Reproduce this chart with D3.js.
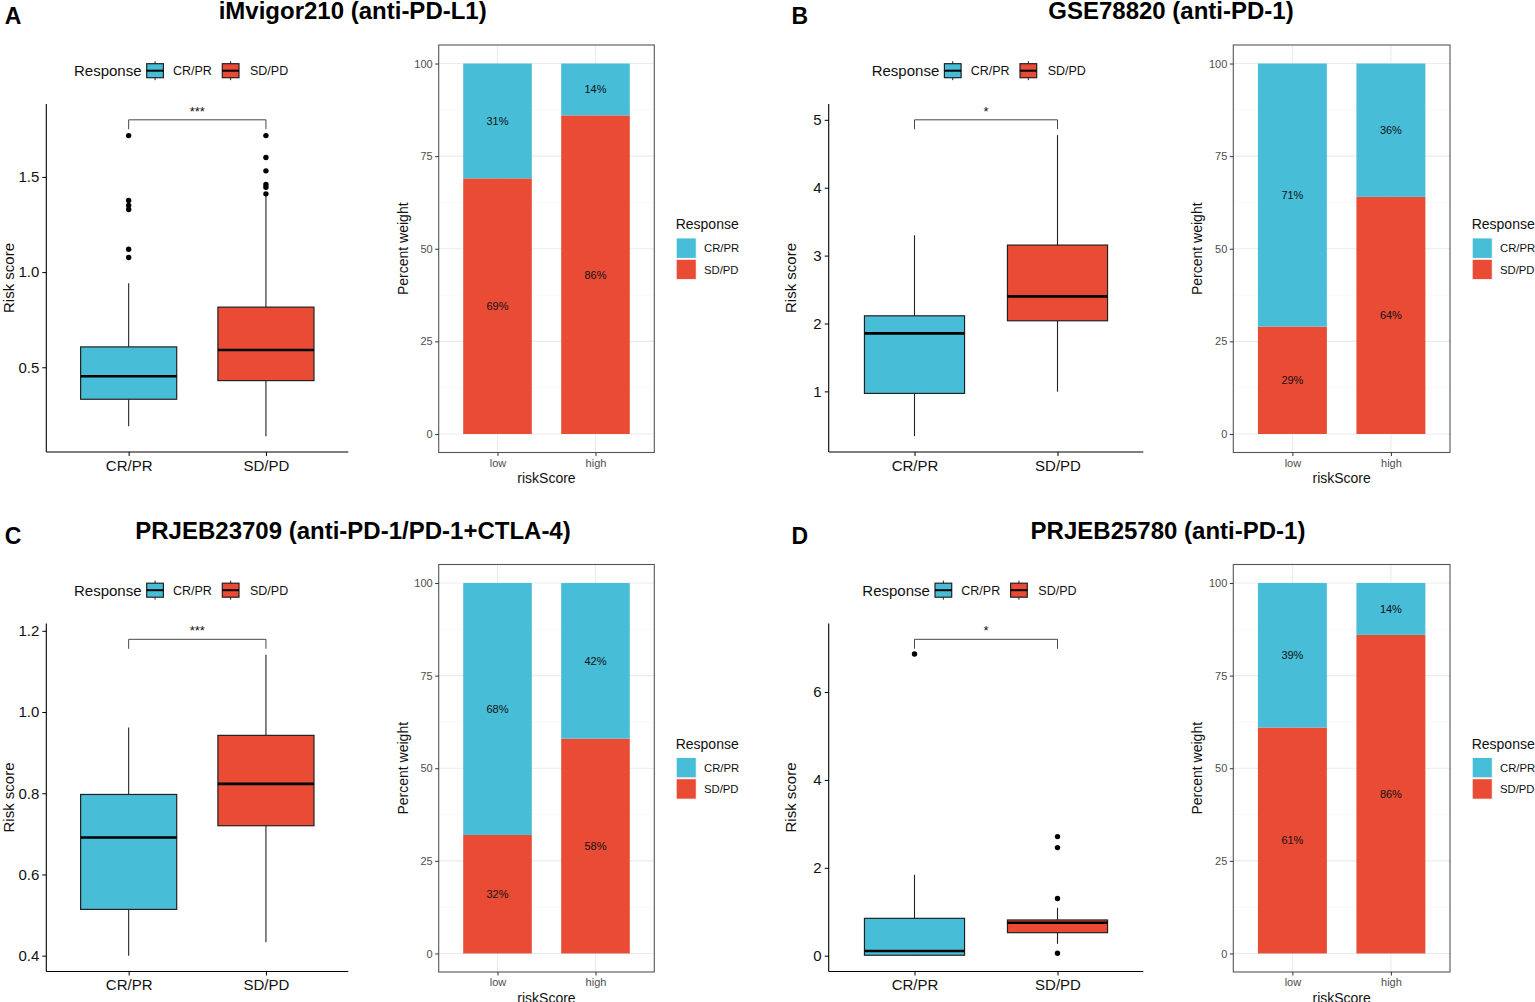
<!DOCTYPE html>
<html>
<head>
<meta charset="utf-8">
<script src="https://cdn.jsdelivr.net/npm/d3@7"></script>
<style>
  html, body { margin: 0; padding: 0; background: #fff; }
  svg { display: block; }
  text { font-family: "Liberation Sans", Arial, Helvetica, sans-serif; }
</style>
</head>
<body>
<script>
// ---------------- DATA ----------------
const groups = ["CR/PR", "SD/PD"];
const riskLevels = ["low", "high"];
const panelLetters = ["A", "B", "C", "D"];
const titles = [
  "iMvigor210 (anti-PD-L1)",
  "GSE78820 (anti-PD-1)",
  "PRJEB23709 (anti-PD-1/PD-1+CTLA-4)",
  "PRJEB25780 (anti-PD-1)"
];
// box statistics per group: [lower whisker, Q1, median, Q3, upper whisker]
const boxA = [[0.19, 0.332, 0.453, 0.607, 0.942], [0.138, 0.43, 0.591, 0.816, 1.40]];
const boxB = [[0.34, 0.97, 1.854, 2.113, 3.30], [0.995, 2.04, 2.40, 3.155, 4.775]];
const boxC = [[0.40, 0.514, 0.691, 0.797, 0.962], [0.433, 0.72, 0.823, 0.9425, 1.141]];
const boxD = [[0.0, 0.01, 0.107, 0.85, 1.84], [0.27, 0.524, 0.75, 0.813, 1.09]];
// outliers per group
const outA = [[1.077, 1.12, 1.329, 1.35, 1.376, 1.717], [1.411, 1.446, 1.46, 1.532, 1.602, 1.717]];
const outB = [[], []];
const outC = [[], []];
const outD = [[6.866], [0.055, 1.30, 2.46, 2.71]];
// significance brackets
const sigLabels = ["***", "*", "***", "*"];
const bracketY = [1.80, 5.0, 1.179, 7.2];
// y tick values of the box plots
const ticksA = [0.5, 1.0, 1.5];
const ticksB = [1, 2, 3, 4, 5];
const ticksC = [0.4, 0.6, 0.8, 1.0, 1.2];
const ticksD = [0, 2, 4, 6];
const tickFormats = [".1f", "d", ".1f", "d"];
// stacked bar percentages (panels A-D)
const crprLow  = [31, 71, 68, 39];
const sdpdLow  = [69, 29, 32, 61];
const crprHigh = [14, 36, 42, 14];
const sdpdHigh = [86, 64, 58, 86];
const pctTicks = [0, 25, 50, 75, 100];
const pctMinor = [12.5, 37.5, 62.5, 87.5];

// ---------------- STYLE / LAYOUT ----------------
const COL = { "CR/PR": "#47BDD8", "SD/PD": "#E94B35" };
const W = 1535, H = 1002;
const svg = d3.select("body").append("svg").attr("width", W).attr("height", H);

const boxData = [boxA, boxB, boxC, boxD];
const outData = [outA, outB, outC, outD];
const tickData = [ticksA, ticksB, ticksC, ticksD];

const rowDY = [0, 519.5];
const boxLayout = [
  { x0: 46.3, x1: 348.3 }, { x0: 828.7, x1: 1143.3 },
  { x0: 46.3, x1: 348.3 }, { x0: 828.7, x1: 1143.3 }
];
const boxLegendX = [74, 871.7, 74, 862.3];
const barLayout = [
  { x0: 438.7, x1: 654.3, leg: 675.7 }, { x0: 1233.3, x1: 1450, leg: 1471.7 },
  { x0: 438.7, x1: 654.3, leg: 675.7 }, { x0: 1233.3, x1: 1450, leg: 1471.7 }
];
const titleX = [352.7, 1171, 353, 1168];
const letterX = [4.7, 791.5, 4.7, 791.5];

for (let p = 0; p < 4; p++) {
  const dy = rowDY[Math.floor(p / 2)];
  // panel letter and title
  svg.append("text").attr("x", letterX[p]).attr("y", 24 + dy)
    .attr("font-size", 23).attr("font-weight", "bold").text(panelLetters[p]);
  svg.append("text").attr("x", titleX[p]).attr("y", 19 + dy)
    .attr("text-anchor", "middle").attr("font-size", 24).attr("font-weight", "bold")
    .text(titles[p]);
  drawBox(p, dy);
  drawBar(p, dy);
}

function drawBox(p, dy) {
  const L = boxLayout[p];
  const y0 = 104 + dy, y1 = 452 + dy;
  const stats = boxData[p], outs = outData[p];
  const dataMin = d3.min([...stats.map(s => s[0]), ...outs.flat()]);
  const top = bracketY[p];
  const r = top - dataMin;
  const y = d3.scaleLinear().domain([dataMin - 0.05 * r, top + 0.05 * r]).range([y1, y0]);
  const x = d3.scalePoint().domain(groups).range([L.x0, L.x1]).padding(0.6);
  const bw = x.step() * 0.7;
  const g = svg.append("g");

  // axes
  const ya = g.append("g").attr("transform", `translate(${L.x0},0)`)
    .call(d3.axisLeft(y).tickValues(tickData[p]).tickSize(4).tickPadding(3)
      .tickFormat(d3.format(tickFormats[p])));
  const xa = g.append("g").attr("transform", `translate(0,${y1})`)
    .call(d3.axisBottom(x).tickSize(4).tickPadding(4));
  [ya, xa].forEach(a => {
    a.select(".domain").attr("stroke", "#000").attr("stroke-width", 1.1);
    a.selectAll(".tick line").attr("stroke", "#000").attr("stroke-width", 1);
    a.selectAll(".tick text").attr("fill", "#111").attr("font-size", 15)
      .attr("font-family", '"Liberation Sans", Arial, sans-serif');
  });
  // extend axis lines to the corner
  ya.select(".domain").attr("d", `M0,${y0}V${y1}`);
  xa.select(".domain").attr("d", `M${L.x0},0H${L.x1}`);

  g.append("text").attr("transform", `translate(${L.x0 - 32.5},${(y0 + y1) / 2}) rotate(-90)`)
    .attr("text-anchor", "middle").attr("font-size", 15).attr("fill", "#111").text("Risk score");

  // boxes
  groups.forEach((grp, i) => {
    const s = stats[i], cx = x(grp);
    g.append("line").attr("x1", cx).attr("x2", cx).attr("y1", y(s[0])).attr("y2", y(s[1]))
      .attr("stroke", "#222").attr("stroke-width", 1.1);
    g.append("line").attr("x1", cx).attr("x2", cx).attr("y1", y(s[3])).attr("y2", y(s[4]))
      .attr("stroke", "#222").attr("stroke-width", 1.1);
    g.append("rect").attr("x", cx - bw / 2).attr("width", bw)
      .attr("y", y(s[3])).attr("height", y(s[1]) - y(s[3]))
      .attr("fill", COL[grp]).attr("stroke", "#222").attr("stroke-width", 1.2);
    g.append("line").attr("x1", cx - bw / 2).attr("x2", cx + bw / 2)
      .attr("y1", y(s[2])).attr("y2", y(s[2])).attr("stroke", "#000").attr("stroke-width", 2.6);
    g.selectAll(null).data(outs[i]).enter().append("circle")
      .attr("cx", cx).attr("cy", d => y(d)).attr("r", 2.7).attr("fill", "#000");
  });

  // significance bracket
  const tip = 0.03 * r;
  const xa1 = x(groups[0]), xa2 = x(groups[1]);
  g.append("path")
    .attr("d", `M${xa1},${y(top - tip)}V${y(top)}H${xa2}V${y(top - tip)}`)
    .attr("fill", "none").attr("stroke", "#333").attr("stroke-width", 0.9);
  g.append("text").attr("x", (xa1 + xa2) / 2).attr("y", y(top) - 4)
    .attr("text-anchor", "middle").attr("font-size", 13).attr("fill", "#111").text(sigLabels[p]);

  // legend (top)
  const lx = boxLegendX[p], ly = 70.7 + dy;
  g.append("text").attr("x", lx).attr("y", ly + 5.3).attr("font-size", 15).attr("fill", "#111").text("Response");
  const keyOff = [72.7, 148.3], labOff = [99, 176];
  groups.forEach((grp, i) => {
    const kx = lx + keyOff[i], kw = 16.7;
    g.append("line").attr("x1", kx + kw / 2).attr("x2", kx + kw / 2)
      .attr("y1", ly - 9.5).attr("y2", ly + 9.5).attr("stroke", "#222").attr("stroke-width", 1);
    g.append("rect").attr("x", kx).attr("y", ly - 7).attr("width", kw).attr("height", 14)
      .attr("fill", COL[grp]).attr("stroke", "#222").attr("stroke-width", 1.2);
    g.append("line").attr("x1", kx).attr("x2", kx + kw).attr("y1", ly).attr("y2", ly)
      .attr("stroke", "#000").attr("stroke-width", 2);
    g.append("text").attr("x", lx + labOff[i]).attr("y", ly + 4.5)
      .attr("font-size", 12.5).attr("fill", "#111").text(grp);
  });
}

function drawBar(p, dy) {
  const L = barLayout[p];
  const y0 = 45 + dy, y1 = 452.5 + dy;
  const y = d3.scaleLinear().domain([-5, 105]).range([y1, y0]);
  const x = d3.scalePoint().domain(riskLevels).range([L.x0, L.x1]).padding(0.6);
  const bw = x.step() * 0.7;
  const g = svg.append("g");

  // grid
  g.selectAll(null).data(pctMinor).enter().append("line")
    .attr("x1", L.x0).attr("x2", L.x1).attr("y1", d => y(d)).attr("y2", d => y(d))
    .attr("stroke", "#F3F3F3").attr("stroke-width", 0.6);
  g.selectAll(null).data(pctTicks).enter().append("line")
    .attr("x1", L.x0).attr("x2", L.x1).attr("y1", d => y(d)).attr("y2", d => y(d))
    .attr("stroke", "#EBEBEB").attr("stroke-width", 1.1);
  g.selectAll(null).data(riskLevels).enter().append("line")
    .attr("x1", d => x(d)).attr("x2", d => x(d)).attr("y1", y0).attr("y2", y1)
    .attr("stroke", "#EBEBEB").attr("stroke-width", 1.1);

  // stacked bars
  const segs = [
    { lvl: "low", grp: "SD/PD", lo: 0, v: sdpdLow[p] },
    { lvl: "low", grp: "CR/PR", lo: sdpdLow[p], v: crprLow[p] },
    { lvl: "high", grp: "SD/PD", lo: 0, v: sdpdHigh[p] },
    { lvl: "high", grp: "CR/PR", lo: sdpdHigh[p], v: crprHigh[p] }
  ];
  segs.forEach(s => {
    const hi = Math.min(100, s.lo + s.v);
    g.append("rect").attr("x", x(s.lvl) - bw / 2).attr("width", bw)
      .attr("y", y(hi)).attr("height", y(s.lo) - y(hi)).attr("fill", COL[s.grp]);
    g.append("text").attr("x", x(s.lvl)).attr("y", y((s.lo + hi) / 2) + 4)
      .attr("text-anchor", "middle").attr("font-size", 11).attr("fill", "#111").text(s.v + "%");
  });

  // border
  g.append("rect").attr("x", L.x0).attr("y", y0).attr("width", L.x1 - L.x0).attr("height", y1 - y0)
    .attr("fill", "none").attr("stroke", "#555").attr("stroke-width", 1.1);

  // axes
  const ya = g.append("g").attr("transform", `translate(${L.x0},0)`)
    .call(d3.axisLeft(y).tickValues(pctTicks).tickSize(3.5).tickPadding(2.5));
  const xa = g.append("g").attr("transform", `translate(0,${y1})`)
    .call(d3.axisBottom(x).tickSize(3.5).tickPadding(3));
  [ya, xa].forEach(a => {
    a.select(".domain").remove();
    a.selectAll(".tick line").attr("stroke", "#333").attr("stroke-width", 1);
    a.selectAll(".tick text").attr("fill", "#4D4D4D").attr("font-size", 11)
      .attr("font-family", '"Liberation Sans", Arial, sans-serif');
  });
  g.append("text").attr("transform", `translate(${L.x0 - 31},${(y0 + y1) / 2}) rotate(-90)`)
    .attr("text-anchor", "middle").attr("font-size", 14).attr("fill", "#111").text("Percent weight");
  g.append("text").attr("x", (L.x0 + L.x1) / 2).attr("y", 483 + dy)
    .attr("text-anchor", "middle").attr("font-size", 14).attr("fill", "#111").text("riskScore");

  // legend
  const lx = L.leg;
  g.append("text").attr("x", lx).attr("y", 229 + dy).attr("font-size", 14).attr("fill", "#111").text("Response");
  groups.forEach((grp, i) => {
    const ky = 238 + dy + i * 21.3;
    g.append("rect").attr("x", lx + 0.5).attr("y", ky).attr("width", 20).attr("height", 20.3)
      .attr("fill", COL[grp]).attr("stroke", "#fff").attr("stroke-width", 0.8);
    g.append("text").attr("x", lx + 28.3).attr("y", ky + 14.2)
      .attr("font-size", 11.3).attr("fill", "#111").text(grp);
  });
}
</script>
</body>
</html>
